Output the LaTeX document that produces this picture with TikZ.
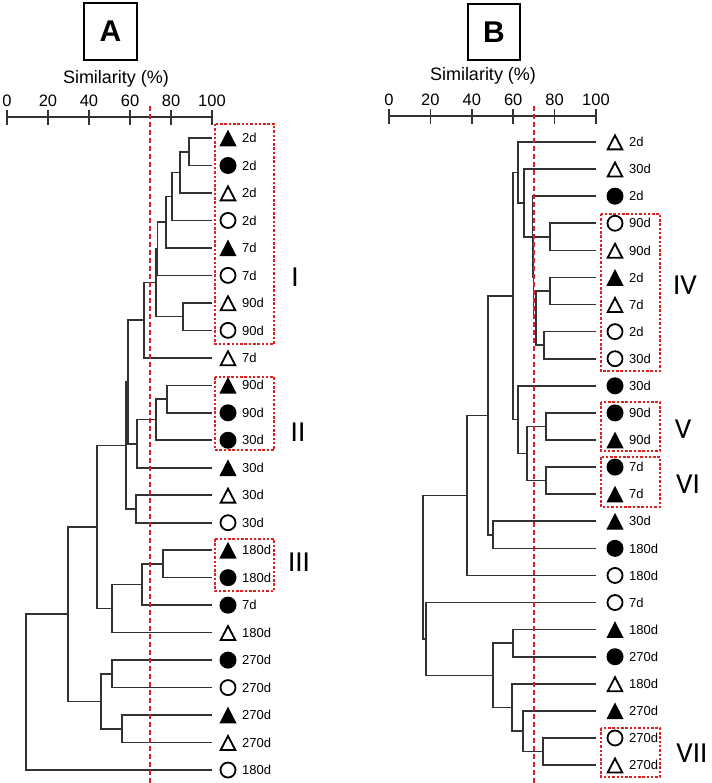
\documentclass[tikz,border=0pt]{standalone}
\usepackage{fontspec}
\setmainfont{Liberation Sans}
\newfontfamily\romfont{Carlito}
\usetikzlibrary{calc}
\definecolor{treegray}{RGB}{50,50,50}
\definecolor{cutred}{RGB}{222,32,32}
\tikzset{
  tree/.style={draw=treegray, line width=1.6pt},
  axisline/.style={draw=treegray, line width=1.5pt},
  cutline/.style={draw=cutred, line width=2pt, dash pattern=on 5pt off 3pt},
  grpbox/.style={draw=cutred, line width=1.2pt, dash pattern=on 2.5pt off 1.8pt},
  lab/.style={anchor=west, inner sep=0pt, font=\fontsize{13}{13}\selectfont},
  ticklab/.style={inner sep=0pt, font=\fontsize{16.5}{16.5}\selectfont},
  simlab/.style={inner sep=0pt, font=\fontsize{18}{18}\selectfont},
  panel/.style={draw=black, line width=1.8pt, inner sep=0pt, font=\fontsize{30}{30}\selectfont\bfseries},
  roman/.style={inner sep=0pt, font=\romfont\fontsize{29}{29}\selectfont},
  ft/.pic={\fill[black] (-8.6,8.3) -- (8.6,8.3) -- (0,-8.4) -- cycle;},
  ot/.pic={\draw[black, line width=1.8pt, line join=miter] (-7.3,7.4) -- (7.3,7.4) -- (0,-6.6) -- cycle;},
  fc/.pic={\fill[black] (0,0) circle[radius=8.5pt];},
  oc/.pic={\draw[black, line width=1.8pt] (0,0) circle[radius=7.5pt];}
}
% leaf: name, index, symbol, text
\newcommand\leafA[4]{%
  \coordinate (#1) at (212,{138+27.48*#2});
  \coordinate (#1s) at (228,{138+27.48*#2});
  \pic at (#1s) {#3};
  \node[lab] (#1t) at (242,{138+27.48*#2}) {#4};}
\newcommand\leafB[4]{%
  \coordinate (#1) at (596,{142+27.09*#2});
  \coordinate (#1s) at (615,{142+27.09*#2});
  \pic at (#1s) {#3};
  \node[lab] (#1t) at (629,{142+27.09*#2}) {#4};}
% join: name, x, child1, child2
\newcommand\jn[4]{%
  \path let \p1=(#3), \p2=(#4) in coordinate (#1) at (#2,{0.5*(\y1+\y2)});
  \draw[tree] (#3) -| (#1) |- (#4);}
\begin{document}
\begin{tikzpicture}[x=1pt,y=-1pt]
\useasboundingbox (0,0) rectangle (711,783);
\fill[white] (0,0) rectangle (711,783);

% ---------------- Panel A ----------------
\node[panel, minimum width=53pt, minimum height=57pt] (pA) at (110.5,31.5) {A};
\node[simlab] (simA) at (116,79) {Similarity (\%)};
\draw[axisline] (7,117) -- (212,117);
\foreach \k/\t in {0/0,1/20,2/40,3/60,4/80,5/100}{
  \draw[axisline] ({7+41*\k},110) -- ({7+41*\k},125);
  \node[ticklab] (tA\k) at ({7+41*\k},101) {\t};
}

\leafA{A0}{0}{ft}{2d}
\leafA{A1}{1}{fc}{2d}
\leafA{A2}{2}{ot}{2d}
\leafA{A3}{3}{oc}{2d}
\leafA{A4}{4}{ft}{7d}
\leafA{A5}{5}{oc}{7d}
\leafA{A6}{6}{ot}{90d}
\leafA{A7}{7}{oc}{90d}
\leafA{A8}{8}{ot}{7d}
\leafA{A9}{9}{ft}{90d}
\leafA{A10}{10}{fc}{90d}
\leafA{A11}{11}{fc}{30d}
\leafA{A12}{12}{ft}{30d}
\leafA{A13}{13}{ot}{30d}
\leafA{A14}{14}{oc}{30d}
\leafA{A15}{15}{ft}{180d}
\leafA{A16}{16}{fc}{180d}
\leafA{A17}{17}{fc}{7d}
\leafA{A18}{18}{ot}{180d}
\leafA{A19}{19}{fc}{270d}
\leafA{A20}{20}{oc}{270d}
\leafA{A21}{21}{ft}{270d}
\leafA{A22}{22}{ot}{270d}
\leafA{A23}{23}{oc}{180d}

\jn{a01}{189}{A0}{A1}
\jn{a012}{180}{a01}{A2}
\jn{a0123}{172}{a012}{A3}
\jn{a4}{166}{a0123}{A4}
\jn{a5}{157.5}{a4}{A5}
\jn{a67}{183}{A6}{A7}
\jn{a567}{156}{a5}{a67}
\jn{a8}{144}{a567}{A8}
\jn{a910}{167}{A9}{A10}
\jn{a11}{156}{a910}{A11}
\jn{a12}{137}{a11}{A12}
\jn{aI}{128}{a8}{a12}
\jn{a1314}{136}{A13}{A14}
\jn{aII}{126}{aI}{a1314}
\jn{a1516}{163}{A15}{A16}
\jn{a17}{142}{a1516}{A17}
\jn{a18}{112}{a17}{A18}
\jn{aIII}{97}{aII}{a18}
\jn{a1920}{112}{A19}{A20}
\jn{a2122}{122}{A21}{A22}
\jn{a2}{101}{a1920}{a2122}
\jn{aIV}{68}{aIII}{a2}
\jn{aroot}{26}{aIV}{A23}

\draw[grpbox] (215,124) rectangle (274,344);
\draw[grpbox] (215,377) rectangle (274,450);
\draw[grpbox] (215,539) rectangle (274,591);
\node[roman] (rI) at (295,277) {I};
\node[roman] (rII) at (298,432) {II};
\node[roman] (rIII) at (299,562) {III};

\draw[cutline] (150,106) -- (150,783);

% ---------------- Panel B ----------------
\node[panel, minimum width=52pt, minimum height=56pt] (pB) at (494,32) {B};
\node[simlab] (simB) at (483,75.5) {Similarity (\%)};
\draw[axisline] (389,116) -- (596,116);
\foreach \k/\t in {0/0,1/20,2/40,3/60,4/80,5/100}{
  \draw[axisline] ({389+41.4*\k},109) -- ({389+41.4*\k},124);
  \node[ticklab] (tB\k) at ({389+41.4*\k},99.5) {\t};
}

\leafB{B0}{0}{ot}{2d}
\leafB{B1}{1}{ot}{30d}
\leafB{B2}{2}{fc}{2d}
\leafB{B3}{3}{oc}{90d}
\leafB{B4}{4}{ot}{90d}
\leafB{B5}{5}{ft}{2d}
\leafB{B6}{6}{ot}{7d}
\leafB{B7}{7}{oc}{2d}
\leafB{B8}{8}{oc}{30d}
\leafB{B9}{9}{fc}{30d}
\leafB{B10}{10}{fc}{90d}
\leafB{B11}{11}{ft}{90d}
\leafB{B12}{12}{fc}{7d}
\leafB{B13}{13}{ft}{7d}
\leafB{B14}{14}{ft}{30d}
\leafB{B15}{15}{fc}{180d}
\leafB{B16}{16}{oc}{180d}
\leafB{B17}{17}{oc}{7d}
\leafB{B18}{18}{ft}{180d}
\leafB{B19}{19}{fc}{270d}
\leafB{B20}{20}{ot}{180d}
\leafB{B21}{21}{ft}{270d}
\leafB{B22}{22}{oc}{270d}
\leafB{B23}{23}{ot}{270d}

\jn{b34}{550}{B3}{B4}
\jn{b56}{550}{B5}{B6}
\jn{b78}{544}{B7}{B8}
\jn{bP}{536}{b56}{b78}
\jn{bQ1}{533.5}{b34}{bP}
\jn{bQ2}{532.5}{B2}{bQ1}
\jn{bX1}{524}{B1}{bQ2}
\jn{bX2}{518}{B0}{bX1}
\jn{bV}{546}{B10}{B11}
\jn{bVI}{546}{B12}{B13}
\jn{bVV}{527}{bV}{bVI}
\jn{bN9}{518}{B9}{bVV}
\jn{bX3}{513}{bX2}{bN9}
\jn{b1415}{493}{B14}{B15}
\jn{b488}{488}{bX3}{b1415}
\jn{b467}{467}{b488}{B16}
\jn{bL1}{513}{B18}{B19}
\jn{bL3}{543}{B22}{B23}
\jn{bL2}{523}{B21}{bL3}
\jn{bL4}{512}{B20}{bL2}
\jn{bL5}{493}{bL1}{bL4}
\jn{bR1}{426}{B17}{bL5}
\jn{bR2}{423}{b467}{bR1}

\draw[grpbox] (601,214) rectangle (660,371);
\draw[grpbox] (601,402) rectangle (660,451);
\draw[grpbox] (601,457) rectangle (660,507);
\draw[grpbox] (601,728) rectangle (660,777);
\node[roman] (rIV) at (685,285) {IV};
\node[roman] (rV) at (683,429) {V};
\node[roman] (rVI) at (688,484) {VI};
\node[roman] (rVII) at (692,753) {VII};

\draw[cutline] (534,106) -- (534,783);
\end{tikzpicture}
\end{document}
